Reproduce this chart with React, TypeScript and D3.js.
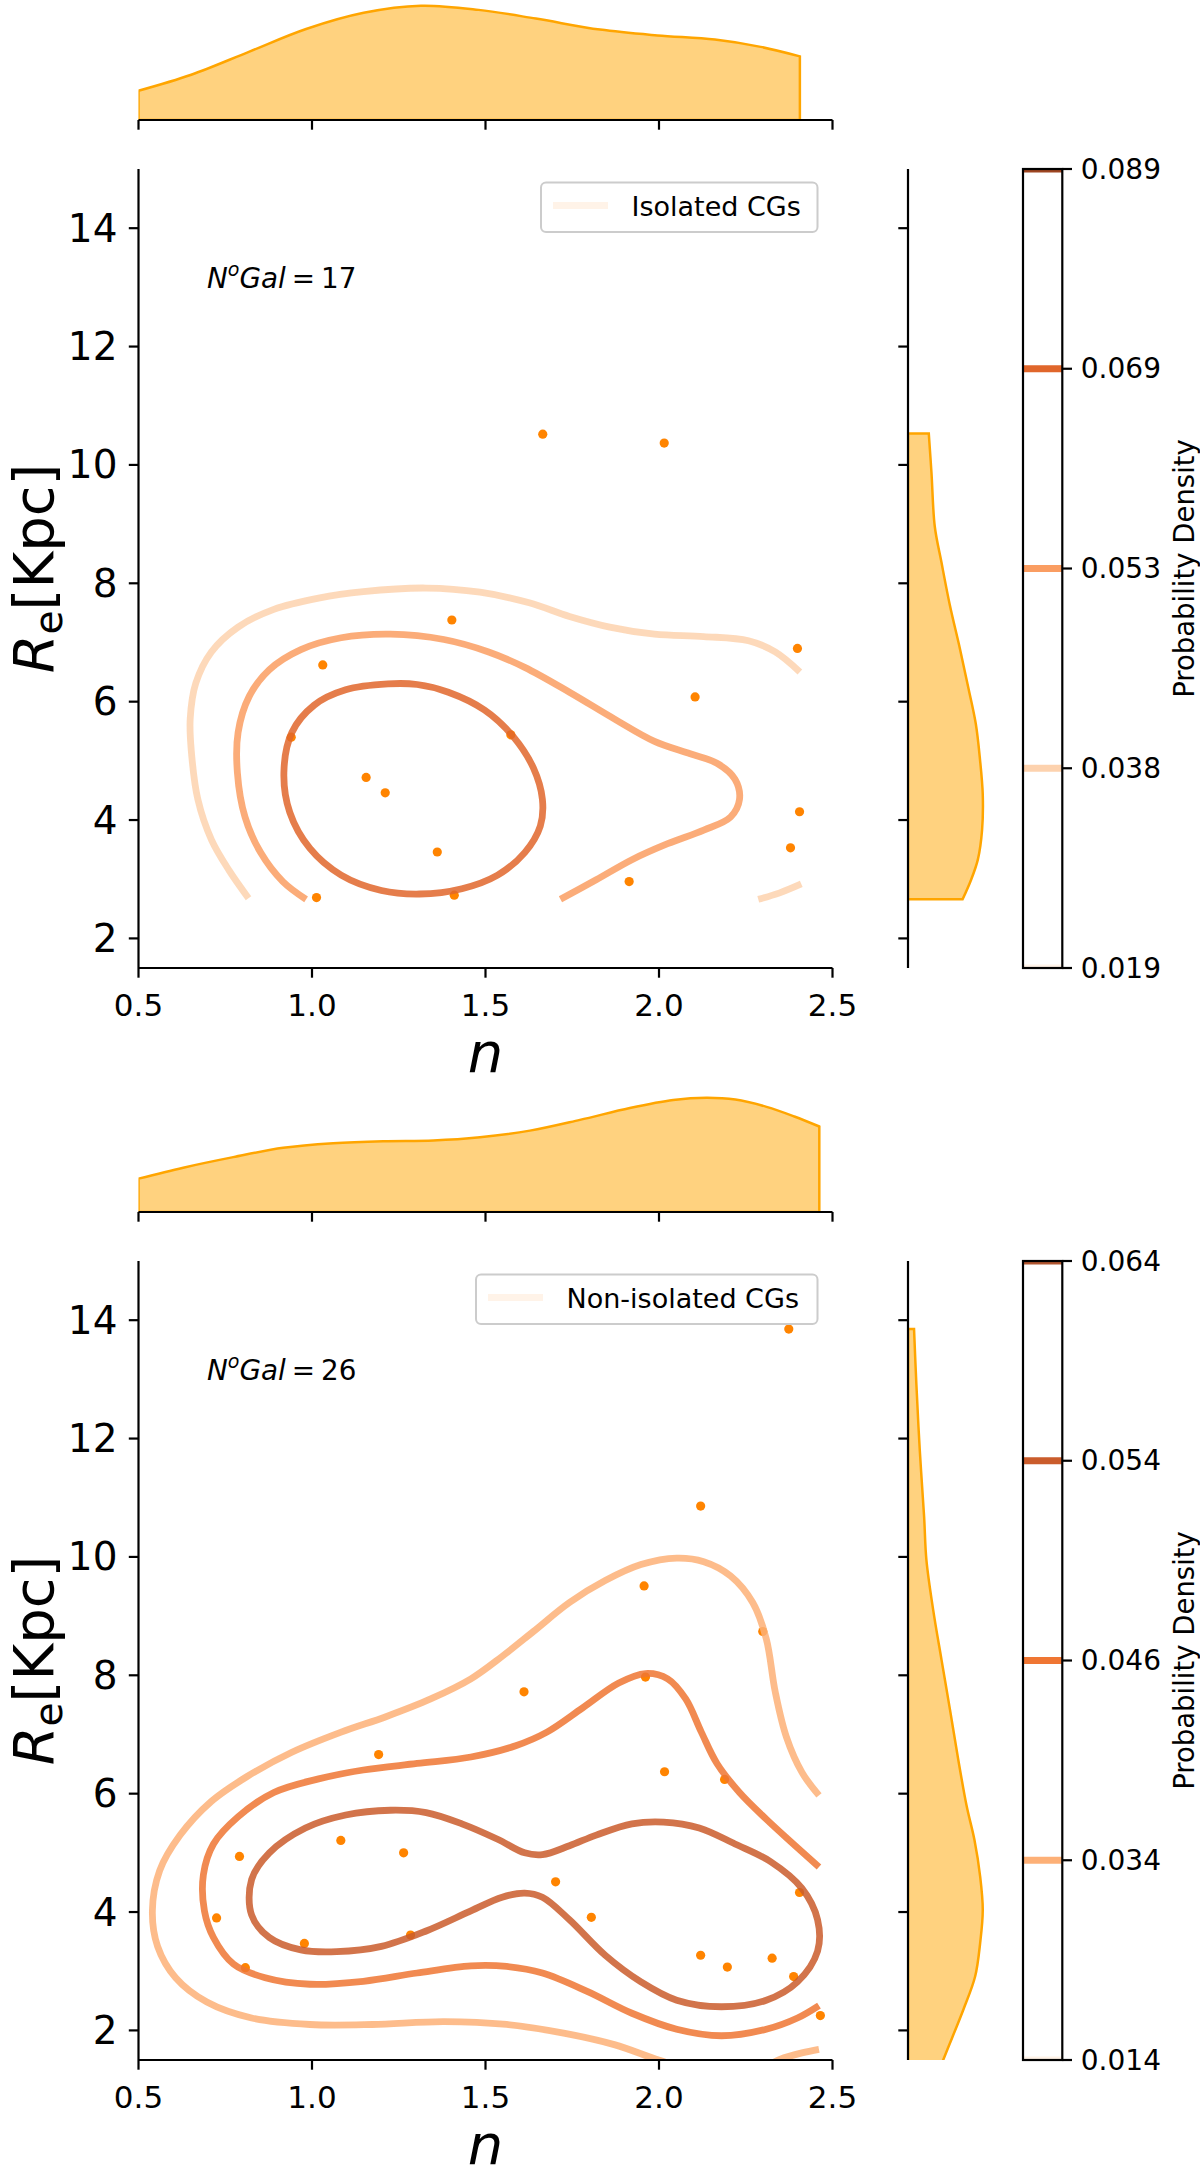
import React from 'react';
import * as d3 from 'd3';

// ---------- data: isolated compact groups (top panel) ----------
const isoN = [1.665, 2.015, 1.403, 2.399, 1.031, 2.104, 0.94, 1.573, 1.156, 1.211, 2.405, 1.361, 2.379, 1.914, 1.013, 1.41];
const isoRe = [10.52, 10.37, 7.38, 6.9, 6.62, 6.08, 5.4, 5.44, 4.72, 4.46, 4.14, 3.46, 3.53, 2.96, 2.69, 2.73];

const isoLevels = ['0.019', '0.038', '0.053', '0.069', '0.089'];

const isoContourLowA: [number, number][] = [
	[0.817, 2.68], [0.761, 3.15], [0.71, 3.67], [0.671, 4.35], [0.652, 5.18], [0.649, 5.71], [0.665, 6.31],
	[0.71, 6.84], [0.787, 7.26], [0.89, 7.56], [1.019, 7.75], [1.148, 7.86], [1.329, 7.92], [1.484, 7.85],
	[1.626, 7.67], [1.742, 7.44], [1.858, 7.26], [1.987, 7.14], [2.129, 7.1], [2.258, 7.03], [2.335, 6.84], [2.406, 6.5],
];
const isoContourLowB: [number, number][] = [[2.286, 2.66], [2.348, 2.77], [2.41, 2.92]];
const isoContourMid: [number, number][] = [
	[0.983, 2.66], [0.916, 2.96], [0.852, 3.45], [0.807, 4.05], [0.785, 4.8], [0.787, 5.48], [0.819, 6.09],
	[0.877, 6.54], [0.968, 6.88], [1.084, 7.08], [1.226, 7.14], [1.38, 7.05], [1.509, 6.84], [1.613, 6.58],
	[1.742, 6.16], [1.871, 5.71], [1.987, 5.33], [2.09, 5.12], [2.167, 4.96], [2.219, 4.69], [2.232, 4.35],
	[2.206, 4.05], [2.129, 3.83], [2.025, 3.6], [1.922, 3.33], [1.819, 2.99], [1.716, 2.66],
];
const isoContourHigh: [number, number][] = [
	[1.219, 6.3], [1.097, 6.2], [1.006, 5.94], [0.942, 5.48], [0.919, 4.8], [0.936, 4.13], [0.994, 3.52],
	[1.084, 3.07], [1.2, 2.81], [1.31, 2.75], [1.432, 2.84], [1.535, 3.07], [1.613, 3.45], [1.658, 3.9],
	[1.664, 4.35], [1.638, 4.88], [1.58, 5.41], [1.497, 5.86], [1.393, 6.16], [1.303, 6.29],
];

const isoMargN = [0.5, 0.652, 0.818, 0.983, 1.149, 1.314, 1.48, 1.645, 1.83, 1.995, 2.161, 2.293, 2.406];
const isoMargNDensity = [0.141, 0.218, 0.328, 0.438, 0.516, 0.55, 0.53, 0.488, 0.435, 0.407, 0.387, 0.352, 0.306];
const isoMargRe = [10.53, 9.86, 8.96, 8.35, 7.63, 6.9, 6.24, 5.63, 5.03, 4.43, 3.83, 3.34, 3.0, 2.66];
const isoMargReDensity = [0.0445, 0.0503, 0.0573, 0.0717, 0.0896, 0.111, 0.129, 0.145, 0.154, 0.16, 0.1585, 0.1497, 0.1355, 0.1168];

// ---------- data: non-isolated compact groups (bottom panel) ----------
const nonN = [2.374, 2.12, 1.957, 2.299, 1.961, 1.611, 1.192, 2.016, 2.189, 1.083, 0.791, 1.264, 1.702, 2.405, 0.725, 1.805, 0.978, 1.284, 0.808, 2.12, 2.197, 2.326, 2.388, 2.465];
const nonRe = [13.85, 10.86, 9.51, 8.74, 7.97, 7.72, 6.66, 6.37, 6.24, 5.21, 4.94, 5.0, 4.51, 4.33, 3.9, 3.91, 3.47, 3.61, 3.06, 3.27, 3.07, 3.22, 2.91, 2.25];

const nonLevels = ['0.014', '0.034', '0.046', '0.054', '0.064'];

const nonContourLow: [number, number][] = [
	[2.461, 5.97], [2.412, 6.36], [2.367, 6.96], [2.335, 7.72], [2.309, 8.62], [2.27, 9.23], [2.206, 9.68],
	[2.129, 9.92], [2.051, 9.98], [1.948, 9.87], [1.845, 9.6], [1.742, 9.23], [1.638, 8.74], [1.548, 8.32],
	[1.458, 7.94], [1.342, 7.6], [1.213, 7.3], [1.084, 7.04], [0.942, 6.7], [0.813, 6.29], [0.71, 5.87],
	[0.62, 5.3], [0.561, 4.7], [0.54, 4.02], [0.555, 3.42], [0.607, 2.89], [0.697, 2.48], [0.826, 2.21],
	[0.994, 2.1], [1.174, 2.1], [1.38, 2.15], [1.561, 2.1], [1.729, 1.95], [1.871, 1.76], [1.999, 1.5],
	[2.1, 1.32], [2.2, 1.27], [2.3, 1.38], [2.348, 1.51], [2.412, 1.62], [2.461, 1.68],
];
const nonContourMid: [number, number][] = [
	[2.461, 4.76], [2.387, 5.15], [2.309, 5.57], [2.232, 6.02], [2.167, 6.51], [2.122, 7.04], [2.077, 7.6],
	[2.025, 7.94], [1.961, 8.03], [1.884, 7.87], [1.78, 7.45], [1.677, 7.04], [1.587, 6.81], [1.458, 6.62],
	[1.303, 6.51], [1.148, 6.4], [1.019, 6.25], [0.89, 6.02], [0.787, 5.61], [0.716, 5.15], [0.687, 4.63],
	[0.69, 4.02], [0.716, 3.57], [0.774, 3.12], [0.865, 2.89], [0.994, 2.78], [1.148, 2.83], [1.303, 2.97],
	[1.458, 3.09], [1.561, 3.08], [1.664, 2.97], [1.793, 2.66], [1.922, 2.29], [2.051, 2.02], [2.18, 1.91],
	[2.309, 2.02], [2.399, 2.21], [2.461, 2.42],
];
const nonContourHigh: [number, number][] = [
	[1.226, 5.72], [1.097, 5.64], [0.981, 5.42], [0.877, 5.0], [0.826, 4.55], [0.826, 3.95], [0.877, 3.57],
	[0.968, 3.36], [1.071, 3.33], [1.2, 3.42], [1.329, 3.68], [1.458, 4.02], [1.548, 4.25], [1.613, 4.32],
	[1.664, 4.25], [1.742, 3.87], [1.845, 3.27], [1.948, 2.82], [2.051, 2.51], [2.18, 2.4], [2.309, 2.51],
	[2.399, 2.82], [2.457, 3.34], [2.457, 3.87], [2.412, 4.4], [2.322, 4.85], [2.219, 5.15], [2.116, 5.42],
	[2.013, 5.52], [1.922, 5.49], [1.819, 5.3], [1.742, 5.12], [1.664, 4.97], [1.613, 5.0], [1.535, 5.23],
	[1.432, 5.49], [1.329, 5.68],
];

const nonMargN = [0.5, 0.629, 0.773, 0.917, 1.061, 1.205, 1.35, 1.484, 1.628, 1.772, 1.916, 2.041, 2.137, 2.22, 2.31, 2.39, 2.462];
const nonMargNDensity = [0.146, 0.194, 0.24, 0.281, 0.301, 0.31, 0.313, 0.327, 0.356, 0.403, 0.455, 0.49, 0.5, 0.492, 0.46, 0.418, 0.374];
const nonMargRe = [13.85, 12.93, 11.8, 10.68, 9.95, 9.11, 8.26, 7.42, 6.57, 5.79, 5.22, 4.6, 4.04, 3.48, 2.91, 2.35, 1.5, 1.2];
const nonMargReDensity = [0.0105, 0.0145, 0.0205, 0.028, 0.032, 0.0437, 0.0583, 0.073, 0.0875, 0.102, 0.1155, 0.1255, 0.13, 0.1255, 0.1167, 0.0962, 0.0612, 0.05];

// ---------- panel configs ----------
interface Contour { level: number; pts: [number, number][]; closed: boolean }
interface PanelData {
	id: string;
	n: number[];
	re: number[];
	levels: string[];
	levelColors: string[];
	contours: Contour[];
	margN: number[];
	margNDensity: number[];
	margRe: number[];
	margReDensity: number[];
	legend: string;
	legendLeft: number;
	nGal: string;
}

const panels: PanelData[] = [
	{
		id: 'iso',
		n: isoN,
		re: isoRe,
		levels: isoLevels,
		levelColors: ['#fff3e8', '#fdd2ae', '#fa9d62', '#e0662b', '#9e4622'],
		contours: [
			{ level: 1, pts: isoContourLowA, closed: false },
			{ level: 1, pts: isoContourLowB, closed: false },
			{ level: 2, pts: isoContourMid, closed: false },
			{ level: 3, pts: isoContourHigh, closed: true },
		],
		margN: isoMargN,
		margNDensity: isoMargNDensity,
		margRe: isoMargRe,
		margReDensity: isoMargReDensity,
		legend: 'Isolated CGs',
		legendLeft: 541,
		nGal: '17',
	},
	{
		id: 'non',
		n: nonN,
		re: nonRe,
		levels: nonLevels,
		levelColors: ['#fff3e8', '#fdb077', '#ef7633', '#ca5c2c', '#b0552f'],
		contours: [
			{ level: 1, pts: nonContourLow, closed: false },
			{ level: 2, pts: nonContourMid, closed: false },
			{ level: 3, pts: nonContourHigh, closed: true },
		],
		margN: nonMargN,
		margNDensity: nonMargNDensity,
		margRe: nonMargRe,
		margReDensity: nonMargReDensity,
		legend: 'Non-isolated CGs',
		legendLeft: 476,
		nGal: '26',
	},
];

const FONT = 'DejaVu Sans, sans-serif';
const TICK = 9.7;
const AXW = 2.2;

const Panel: React.FC<{ p: PanelData; oy: number }> = ({ p, oy }) => {
	const left = 138.5, right = 832.5, top = 169, bottom = 968;
	const margBase = 120, margTop = 0;
	const rmLeft = 908, rmW = 78.5;
	const cbLeft = 1023, cbRight = 1062.3;

	const x = d3.scaleLinear().domain([0.5, 2.5]).range([left, right]);
	const y = d3.scaleLinear().domain([1.5, 15]).range([bottom, top]);
	const xTicks = x.ticks(5);
	const yTicks = y.ticks(7);

	const mY = d3.scaleLinear().domain([0, (d3.max(p.margNDensity) ?? 1) * 1.05]).range([margBase, margTop]);
	const mX = d3.scaleLinear().domain([0, (d3.max(p.margReDensity) ?? 1) * 1.05]).range([rmLeft, rmLeft + rmW]);

	const topArea = d3.area<number>()
		.x((_, i) => x(p.margN[i]))
		.y0(margBase)
		.y1((d) => mY(d))
		.curve(d3.curveCatmullRom.alpha(0.5));
	const rightArea = d3.area<number>()
		.y((_, i) => y(p.margRe[i]))
		.x0(rmLeft)
		.x1((d) => mX(d))
		.curve(d3.curveCatmullRom.alpha(0.5));

	const cb = d3.scalePoint<string>().domain(p.levels).range([bottom, top]);

	const fmtX = d3.format('.1f');
	const fmtY = d3.format('d');

	return (
		<g transform={`translate(0,${oy})`}>
			<defs>
				<clipPath id={`${p.id}-main`}>
					<rect x={left} y={top} width={right - left} height={bottom - top} />
				</clipPath>
				<clipPath id={`${p.id}-mtop`}>
					<rect x={left} y={margTop} width={right - left} height={margBase - margTop} />
				</clipPath>
				<clipPath id={`${p.id}-mright`}>
					<rect x={rmLeft} y={top} width={rmW} height={bottom - top} />
				</clipPath>
				<clipPath id={`${p.id}-cb`}>
					<rect x={cbLeft} y={top} width={cbRight - cbLeft} height={bottom - top} />
				</clipPath>
			</defs>

			{/* top marginal */}
			<path d={topArea(p.margNDensity) ?? ''} fill="#ffd27f" stroke="#ffa500" strokeWidth={2.5}
				clipPath={`url(#${p.id}-mtop)`} />
			<line x1={left} x2={right} y1={margBase} y2={margBase} stroke="#000" strokeWidth={AXW} />
			{xTicks.map((t) => (
				<line key={t} x1={x(t)} x2={x(t)} y1={margBase} y2={margBase + TICK} stroke="#000" strokeWidth={AXW} />
			))}

			{/* right marginal */}
			<path d={rightArea(p.margReDensity) ?? ''} fill="#ffd27f" stroke="#ffa500" strokeWidth={2.5}
				clipPath={`url(#${p.id}-mright)`} />
			<line x1={rmLeft} x2={rmLeft} y1={top} y2={bottom} stroke="#000" strokeWidth={AXW} />
			{yTicks.map((t) => (
				<line key={t} x1={rmLeft - TICK} x2={rmLeft} y1={y(t)} y2={y(t)} stroke="#000" strokeWidth={AXW} />
			))}

			{/* joint plot */}
			<g clipPath={`url(#${p.id}-main)`}>
				{p.n.map((v, i) => (
					<circle key={i} cx={x(v)} cy={y(p.re[i])} r={4.6} fill="#ff8400" />
				))}
				{p.contours.map((c, i) => {
					const line = d3.line<[number, number]>()
						.x((d) => x(d[0]))
						.y((d) => y(d[1]))
						.curve(c.closed ? d3.curveCatmullRomClosed.alpha(0.5) : d3.curveCatmullRom.alpha(0.5));
					return (
						<path key={i} d={line(c.pts) ?? ''} fill="none" stroke={p.levelColors[c.level]}
							strokeWidth={6.8} strokeOpacity={0.85} strokeLinecap="butt" />
					);
				})}
			</g>

			{/* axes */}
			<line x1={left} x2={left} y1={top} y2={bottom} stroke="#000" strokeWidth={AXW} />
			<line x1={left} x2={right} y1={bottom} y2={bottom} stroke="#000" strokeWidth={AXW} />
			{xTicks.map((t) => (
				<g key={t}>
					<line x1={x(t)} x2={x(t)} y1={bottom} y2={bottom + TICK} stroke="#000" strokeWidth={AXW} />
					<text x={x(t)} y={bottom + 48} textAnchor="middle" fontSize={31} fontFamily={FONT}>{fmtX(t)}</text>
				</g>
			))}
			{yTicks.map((t) => (
				<g key={t}>
					<line x1={left - TICK} x2={left} y1={y(t)} y2={y(t)} stroke="#000" strokeWidth={AXW} />
					<text x={left - 21} y={y(t)} textAnchor="end" dominantBaseline="central" fontSize={39} fontFamily={FONT}>{fmtY(t)}</text>
				</g>
			))}
			<text x={(left + right) / 2} y={bottom + 104} textAnchor="middle" fontSize={56} fontStyle="italic" fontFamily={FONT}>n</text>
			<text transform={`translate(53,${(top + bottom) / 2}) rotate(-90)`} textAnchor="middle" fontSize={56} fontFamily={FONT}>
				<tspan fontStyle="italic">R</tspan>
				<tspan fontSize={39} dy={9}>e</tspan>
				<tspan dy={-9}>[Kpc]</tspan>
			</text>

			{/* N Gal annotation */}
			<text x={207} y={top + 119} fontSize={27.8} fontFamily={FONT}>
				<tspan fontStyle="italic">N</tspan>
				<tspan fontStyle="italic" fontSize={19} dy={-12}>o</tspan>
				<tspan fontStyle="italic" dy={12}>Gal</tspan>
				<tspan dx={6}>=</tspan>
				<tspan dx={6}>{p.nGal}</tspan>
			</text>

			{/* legend */}
			<rect x={p.legendLeft} y={top + 13.5} width={817.5 - p.legendLeft} height={49.5} rx={5}
				fill="#fff" fillOpacity={0.8} stroke="#cccccc" strokeWidth={2} />
			<line x1={p.legendLeft + 12} x2={p.legendLeft + 67} y1={top + 36.5} y2={top + 36.5}
				stroke={p.levelColors[0]} strokeWidth={6.8} />
			<text x={p.legendLeft + 90.5} y={top + 47} fontSize={27} fontFamily={FONT}>{p.legend}</text>

			{/* colorbar */}
			<g clipPath={`url(#${p.id}-cb)`}>
				{p.levels.map((l, i) => (
					<line key={l} x1={cbLeft} x2={cbRight} y1={cb(l)} y2={cb(l)} stroke={p.levelColors[i]} strokeWidth={7} />
				))}
			</g>
			<rect x={cbLeft} y={top} width={cbRight - cbLeft} height={bottom - top} fill="none" stroke="#000" strokeWidth={AXW} />
			{p.levels.map((l) => (
				<g key={l}>
					<line x1={cbRight} x2={cbRight + TICK} y1={cb(l)} y2={cb(l)} stroke="#000" strokeWidth={AXW} />
					<text x={cbRight + 18.5} y={cb(l)} dominantBaseline="central" fontSize={28} fontFamily={FONT}>{l}</text>
				</g>
			))}
			<text transform={`translate(1194,${(top + bottom) / 2}) rotate(-90)`} textAnchor="middle" fontSize={27.5} fontFamily={FONT}>
				Probability Density
			</text>
		</g>
	);
};

export default function App() {
	return (
		<svg width={1200} height={2178} viewBox="0 0 1200 2178"
			style={{ position: 'absolute', left: 0, top: 0, background: '#fff' }}>
			<rect width={1200} height={2178} fill="#fff" />
			{panels.map((p, i) => (
				<Panel key={p.id} p={p} oy={i * 1092} />
			))}
		</svg>
	);
}
